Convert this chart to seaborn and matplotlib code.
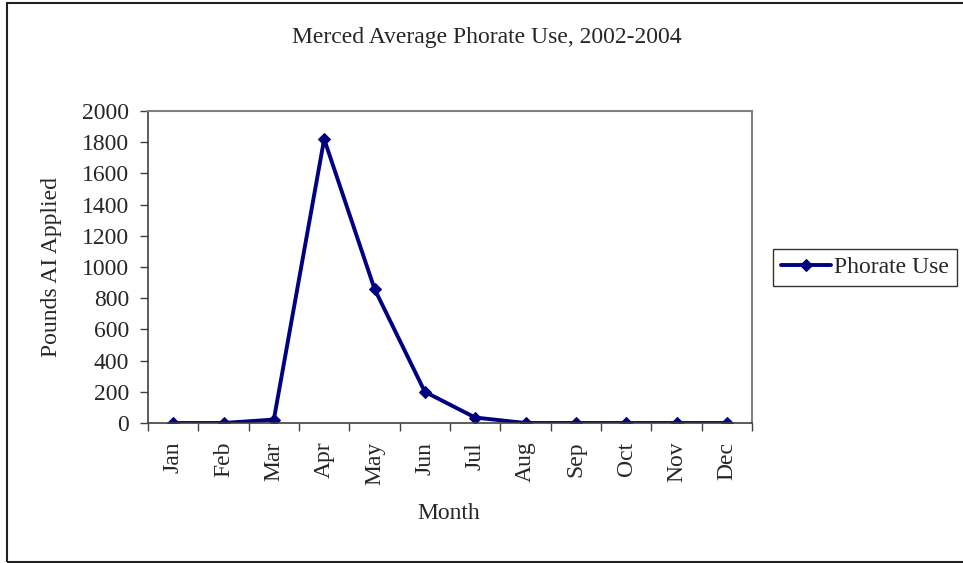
import matplotlib
matplotlib.use('Agg')
import numpy as np
import pandas as pd
import matplotlib.pyplot as plt
import seaborn as sns
from matplotlib.patches import Rectangle

# data
months = ['Jan', 'Feb', 'Mar', 'Apr', 'May', 'Jun', 'Jul', 'Aug', 'Sep', 'Oct', 'Nov', 'Dec']
phorate_use = [0, 0, 22, 1820, 860, 200, 35, 0, 0, 0, 0, 0]
y_ticks = [0, 200, 400, 600, 800, 1000, 1200, 1400, 1600, 1800, 2000]

sns.set_theme(style='white')
plt.rcParams['font.family'] = ['Liberation Serif', 'DejaVu Serif']
plt.rcParams['font.size'] = 17

W, H = 963, 563
fig = plt.figure(figsize=(W / 100, H / 100), dpi=100)
fig.patch.set_facecolor('white')

# plot area in pixel coordinates of the reference
left, right, top, bottom = 148, 752, 111, 423
ax = fig.add_axes([left / W, (H - bottom) / H, (right - left) / W, (bottom - top) / H])

df = pd.DataFrame({'Month': months, 'Pounds': phorate_use})
df['pos'] = np.arange(len(months))
sns.lineplot(data=df, x='pos', y='Pounds', ax=ax, color='#000080', linewidth=2.8,
             marker='D', markersize=6.5, markeredgecolor='#000080', sort=False,
             label='Phorate Use', legend=False)

ax.set_xlim(-0.5, len(months) - 0.5)
ax.set_ylim(0, 2000)
ax.set_yticks(y_ticks)
ax.set_xticks(df['pos'])
ax.set_xticklabels(months, rotation=90)
ax.set_xticks(np.arange(-0.5, len(months)), minor=True)
ax.tick_params(axis='x', which='major', length=0, pad=13.5, labelsize=17)
ax.tick_params(axis='x', which='minor', length=5.5, width=1, color='#404040', direction='out')
ax.tick_params(axis='y', length=5.5, width=1, color='#404040', direction='out', pad=8, labelsize=17)
ax.tick_params(bottom=True, left=True, which='both')

for side in ['left', 'bottom']:
    ax.spines[side].set_color('#404040')
    ax.spines[side].set_linewidth(1.2)
for side in ['top', 'right']:
    ax.spines[side].set_color('#808080')
    ax.spines[side].set_linewidth(1.5)

ax.set_xlabel('Month', fontsize=17)
ax.set_ylabel('Pounds AI Applied', fontsize=17)
ax.xaxis.set_label_coords((449 - left) / (right - left), (bottom - 503) / (bottom - top))
ax.yaxis.set_label_coords((62 - left) / (right - left), 0.5)

fig.text(487 / W, 1 - 38 / H, 'Merced Average Phorate Use, 2002-2004',
         ha='center', va='center', fontsize=17)

handles, labels = ax.get_legend_handles_labels()
leg = fig.legend(handles, labels, loc='center left', bbox_to_anchor=(773 / W, 1 - 267.5 / H),
                 frameon=True, fancybox=False, fontsize=17, handlelength=2.15,
                 handletextpad=0.13, borderpad=0.32, borderaxespad=0)
leg.get_frame().set_edgecolor('black')
leg.get_frame().set_linewidth(1.0)

# outer chart border
fig.patches.append(Rectangle((7 / W, 1 / H), 1.0, 1 - 4 / H, transform=fig.transFigure,
                             fill=False, edgecolor='#202020', linewidth=1.5))

fig.savefig('out.png', dpi=100)
